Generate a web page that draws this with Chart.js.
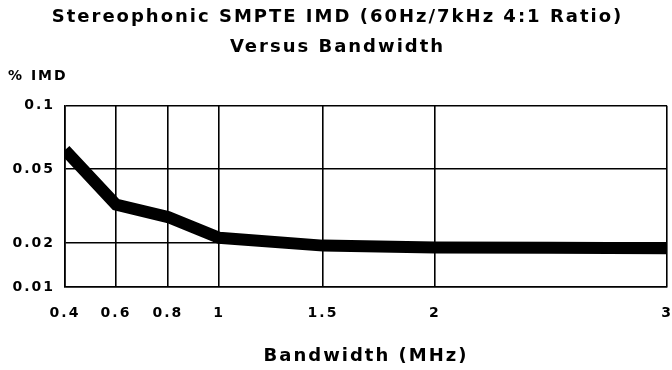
<!DOCTYPE html>
<html>
<head>
<meta charset="utf-8">
<script src="https://cdn.jsdelivr.net/npm/chart.js@4/dist/chart.umd.min.js"></script>
<style>
  html, body { margin: 0; padding: 0; background: #fff; }
  canvas { display: block; }
</style>
</head>
<body>
<canvas id="imdChart" width="672" height="370"></canvas>
<script>
// Bandwidth (MHz) and measured % IMD
const bandwidth = [0.4, 0.6, 0.8, 1, 1.5, 2, 2.5, 3];
const imdPercent = [0.065, 0.0355, 0.0305, 0.0221, 0.0194, 0.019, 0.0189, 0.0188];

// Axis ticks and their labels
const xTicks = [0.4, 0.6, 0.8, 1, 1.5, 2, 3];
const xTickLabels = ['0.4', '0.6', '0.8', '1', '1.5', '2', '3'];
const yTicks = [0.01, 0.02, 0.05, 0.1];
const yTickLabels = ['0.01', '0.02', '0.05', '0.1'];

// The paper graph uses uneven grid spacing: each tick sits at a fixed
// fraction of the axis, values in between are interpolated linearly.
class SegmentScale extends Chart.LinearScale {
  buildTicks() {
    return this.options.stops.map(v => ({ value: v }));
  }
  getPixelForValue(value) {
    if (value === null || isNaN(value)) return NaN;
    const s = this.options.stops, f = this.options.fractions;
    let i = 0;
    while (i < s.length - 2 && value > s[i + 1]) i++;
    const t = (value - s[i]) / (s[i + 1] - s[i]);
    return this.getPixelForDecimal(f[i] + t * (f[i + 1] - f[i]));
  }
  getValueForPixel(pixel) {
    const s = this.options.stops, f = this.options.fractions;
    const d = this.getDecimalForPixel(pixel);
    let i = 0;
    while (i < f.length - 2 && d > f[i + 1]) i++;
    const t = (d - f[i]) / (f[i + 1] - f[i]);
    return s[i] + t * (s[i + 1] - s[i]);
  }
}
SegmentScale.id = 'segment';
SegmentScale.defaults = Chart.LinearScale.defaults;
Chart.register(SegmentScale);

// wide-set lettering like the plotter font
const letterSpacing = {
  id: 'letterSpacing',
  beforeUpdate(chart) { chart.ctx.letterSpacing = '2px'; },
  beforeLayout(chart) { chart.ctx.letterSpacing = '2px'; },
  beforeDraw(chart) { chart.ctx.letterSpacing = '2px'; }
};

Chart.defaults.font.family = "'DejaVu Sans', sans-serif";
Chart.defaults.font.weight = 'bold';
Chart.defaults.color = '#000';

const gridStyle = { color: '#000', lineWidth: 1.6, drawTicks: false };
const borderStyle = { display: true, color: '#000', width: 1.6 };

new Chart(document.getElementById('imdChart'), {
  type: 'line',
  data: {
    datasets: [{
      data: bandwidth.map((b, i) => ({ x: b, y: imdPercent[i] })),
      borderColor: '#000',
      borderWidth: 12,
      pointRadius: 0,
      tension: 0,
      clip: 0
    }]
  },
  options: {
    responsive: false,
    animation: false,
    devicePixelRatio: 1,
    layout: { padding: { left: 8, right: 5, top: 0, bottom: 0 } },
    plugins: {
      legend: { display: false },
      tooltip: { enabled: false },
      title: {
        display: true,
        text: ['Stereophonic SMPTE IMD (60Hz/7kHz 4:1 Ratio)', 'Versus Bandwidth'],
        font: { size: 18, weight: 'bold', lineHeight: 1.64 },
        color: '#000',
        padding: { top: 3, bottom: 6 }
      },
      subtitle: {
        display: true,
        text: '% IMD',
        align: 'start',
        font: { size: 14, weight: 'bold' },
        color: '#000',
        padding: { top: 0, bottom: 21 }
      }
    },
    scales: {
      x: {
        type: 'segment',
        position: 'bottom',
        min: 0.4,
        max: 3,
        stops: xTicks,
        fractions: [0, 0.0847, 0.171, 0.256, 0.4286, 0.6146, 1],
        grid: gridStyle,
        border: borderStyle,
        ticks: {
          autoSkip: false,
          maxRotation: 0,
          padding: 18,
          font: { size: 14, weight: 'bold' },
          callback: (v, i) => xTickLabels[i]
        },
        title: {
          display: true,
          text: 'Bandwidth (MHz)',
          font: { size: 18, weight: 'bold' },
          padding: { top: 0, bottom: 3 }
        },
        afterFit: scale => {
          scale.height = 83;
          scale.paddingLeft = 0;
          scale.paddingRight = 0;
        }
      },
      y: {
        type: 'segment',
        min: 0.01,
        max: 0.1,
        stops: yTicks,
        fractions: [0, 0.243, 0.652, 1],
        grid: gridStyle,
        border: borderStyle,
        ticks: {
          autoSkip: false,
          padding: 10,
          font: { size: 14, weight: 'bold' },
          callback: (v, i) => yTickLabels[i]
        },
        afterFit: scale => { scale.width = 57; }
      }
    }
  },
  plugins: [letterSpacing]
});
</script>
</body>
</html>
